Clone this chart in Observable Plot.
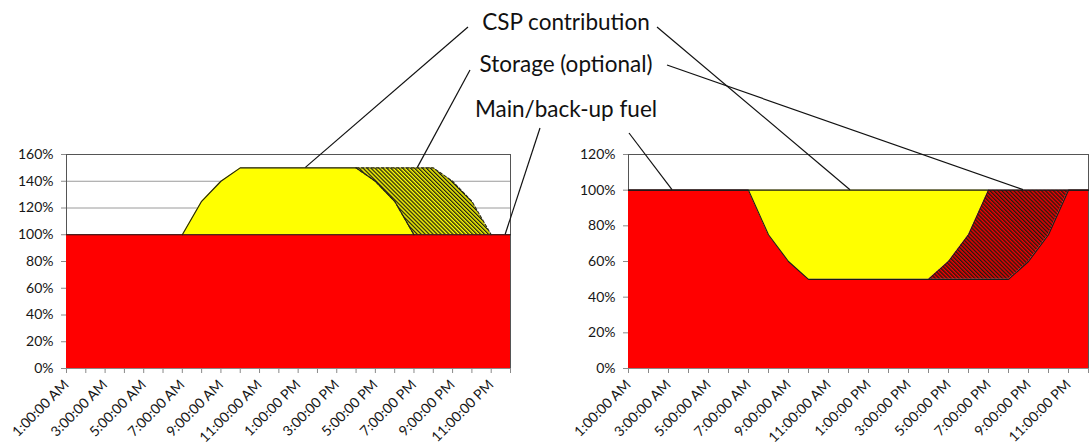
<!DOCTYPE html>
<html>
<head>
<meta charset="utf-8">
<script src="https://cdn.jsdelivr.net/npm/d3@7"></script>
<script src="https://cdn.jsdelivr.net/npm/@observablehq/plot@0.6"></script>
<style>
  body { margin: 0; background: #fff; }
  #wrap { position: relative; width: 1089px; height: 446px; overflow: hidden; }
  #wrap svg { position: absolute; top: 0; overflow: visible; }
</style>
</head>
<body>
<div id="wrap"></div>
<script>
// Hour of day (1:00 AM … 12:00 AM) and the share of nominal output, in percent
const hours = [1, 2, 3, 4, 5, 6, 7, 8, 9, 10, 11, 12, 13, 14, 15, 16, 17, 18, 19, 20, 21, 22, 23, 24];
const labelHours = [1, 3, 5, 7, 9, 11, 13, 15, 17, 19, 21, 23];
const labelTexts = ["1:00:00 AM", "3:00:00 AM", "5:00:00 AM", "7:00:00 AM", "9:00:00 AM", "11:00:00 AM",
                    "1:00:00 PM", "3:00:00 PM", "5:00:00 PM", "7:00:00 PM", "9:00:00 PM", "11:00:00 PM"];

// Solar booster: fuel stays at 100 %, the CSP field and storage add on top
const mainFuel     = [100, 100, 100, 100, 100, 100, 100, 100, 100, 100, 100, 100, 100, 100, 100, 100, 100, 100, 100, 100, 100, 100, 100, 100];
// Fuel saver: CSP and storage displace part of the back-up fuel
const backupFuel   = [100, 100, 100, 100, 100, 100, 100, 75, 60, 50, 50, 50, 50, 50, 50, 50, 50, 50, 50, 50, 60, 75, 100, 100];
const cspShare     = [0, 0, 0, 0, 0, 0, 0, 25, 40, 50, 50, 50, 50, 50, 50, 50, 40, 25, 0, 0, 0, 0, 0, 0];
const storageShare = [0, 0, 0, 0, 0, 0, 0, 0, 0, 0, 0, 0, 0, 0, 0, 0, 10, 25, 50, 50, 40, 25, 0, 0];

const leftTicks  = [0, 20, 40, 60, 80, 100, 120, 140, 160];
const rightTicks = [0, 20, 40, 60, 80, 100, 120];

// Callout labels and the point each leader line reaches in either panel
const calloutTexts  = ["CSP contribution", "Storage (optional)", "Main/back-up fuel"];
const leaderText    = ["CSP contribution", "CSP contribution", "Storage (optional)", "Storage (optional)", "Main/back-up fuel", "Main/back-up fuel"];
const leaderPanel   = ["left", "right", "left", "right", "left", "right"];
const leaderHour    = [13.4, 12.1, 19.2, 20.75, 23.75, 3.2];
const leaderPercent = [150, 100, 150, 100, 100, 100];

const FONT = "Lato, 'Open Sans', sans-serif";
const labelOf = new Map(labelHours.map((h, i) => [h, labelTexts[i]]));

function stack(layers) {
  const rows = [];
  hours.forEach((h, i) => {
    let base = 0;
    for (const [layer, values] of layers) {
      rows.push({hour: h, layer, lo: base, hi: base + values[i]});
      base += values[i];
    }
  });
  return rows;
}

function addHatch(svg, id, background) {
  const defs = d3.select(svg).insert("defs", ":first-child");
  const p = defs.append("pattern")
    .attr("id", id)
    .attr("patternUnits", "userSpaceOnUse")
    .attr("width", 2.8).attr("height", 2.8)
    .attr("patternTransform", "rotate(-45)");
  p.append("rect").attr("width", 2.8).attr("height", 2.8).attr("fill", background);
  p.append("rect").attr("width", 1.3).attr("height", 2.8).attr("fill", "#1c1c14");
}

function panel({layers, yMax, yTicks, width, marginLeft, marginRight, hatchId, hatchBg, outlines}) {
  const rows = stack(layers);
  const of = (k) => rows.filter((d) => d.layer === k);
  const area = (k, fill) => Plot.areaY(of(k), {x: "hour", y1: "lo", y2: "hi", fill, curve: "linear"});
  const svg = Plot.plot({
    width, height: 446,
    marginLeft, marginRight, marginTop: 154, marginBottom: 78,
    x: {domain: [1, 24]},
    y: {domain: [0, yMax]},
    style: {fontFamily: FONT, color: "#1e1e1e", background: "transparent", overflow: "visible"},
    marks: [
      Plot.gridY(yTicks, {stroke: "#9a9a9a", strokeOpacity: 1}),
      Plot.frame({stroke: "#555"}),
      area("fuel", "#ff0000"),
      area("csp", "#ffff00"),
      area("storage", `url(#${hatchId})`),
      ...outlines(of),
      Plot.ruleY([0], {stroke: "#8a8a8a"}),
      Plot.axisY(yTicks, {tickFormat: (d) => d + "%", tickSize: 5, tickPadding: 8, fontSize: 14, stroke: "#8a8a8a", fill: "#161616", label: null}),
      Plot.axisX(hours, {tickFormat: (d) => labelOf.get(d) ?? "", tickRotate: -45, tickSize: 5, tickPadding: 9, fontSize: 14, stroke: "#8a8a8a", fill: "#161616", label: null})
    ]
  });
  addHatch(svg, hatchId, hatchBg);
  return svg;
}

const line = (data, extra) => Plot.line(data, {x: "hour", y: "hi", stroke: "#1a1a1a", strokeWidth: 1.1, ...extra});
const within = (a, b) => (d) => d.hour >= a && d.hour <= b;

const left = panel({
  layers: [["fuel", mainFuel], ["csp", cspShare], ["storage", storageShare]],
  yMax: 160, yTicks: leftTicks,
  width: 545, marginLeft: 66, marginRight: 35,
  hatchId: "hatchYellow", hatchBg: "#ffff00",
  outlines: (of) => [
    line(of("fuel")),
    line(of("csp").filter(within(7, 19))),
    line(of("storage").filter(within(16, 23)), {strokeDasharray: "3,2", stroke: "#2a2a1a"}),
    line(of("csp").filter(within(16, 19)), {strokeDasharray: "3,2", stroke: "#2a2a1a"})
  ]
});

const right = panel({
  layers: [["fuel", backupFuel], ["storage", storageShare], ["csp", cspShare]],
  yMax: 120, yTicks: rightTicks,
  width: 544, marginLeft: 83, marginRight: 1,
  hatchId: "hatchRed", hatchBg: "#ee0000",
  outlines: (of) => [
    line(of("fuel")),
    line(of("storage").filter(within(16, 19)), {strokeWidth: 0.8}),
    line(of("csp"))
  ]
});

const wrap = document.getElementById("wrap");
left.style.left = "0px";
right.style.left = "545px";
wrap.append(left, right);

// Callouts above both panels, with leader lines into each panel
const panels = {left: {svg: left, dx: 0}, right: {svg: right, dx: 545}};
const overlay = d3.create("svg")
  .attr("width", 1089).attr("height", 446)
  .style("left", "0px")
  .style("pointer-events", "none");

const calloutY = [30, 72, 117];
const text = overlay.append("g")
  .attr("font-family", FONT)
  .attr("font-size", 22.5)
  .attr("fill", "#111")
  .attr("text-anchor", "middle");
calloutTexts.forEach((t, i) => text.append("text").attr("x", 566).attr("y", calloutY[i]).text(t));

// where each leader leaves its label
const leaderStart = [[468, 27], [657, 27], [470, 70], [667, 65], [540, 128], [629, 133]];
leaderText.forEach((t, i) => {
  const p = panels[leaderPanel[i]];
  const x2 = p.dx + p.svg.scale("x").apply(leaderHour[i]);
  const y2 = p.svg.scale("y").apply(leaderPercent[i]);
  overlay.append("line")
    .attr("x1", leaderStart[i][0]).attr("y1", leaderStart[i][1])
    .attr("x2", x2).attr("y2", y2)
    .attr("stroke", "#111").attr("stroke-width", 1.2);
});

wrap.append(overlay.node());
</script>
</body>
</html>
